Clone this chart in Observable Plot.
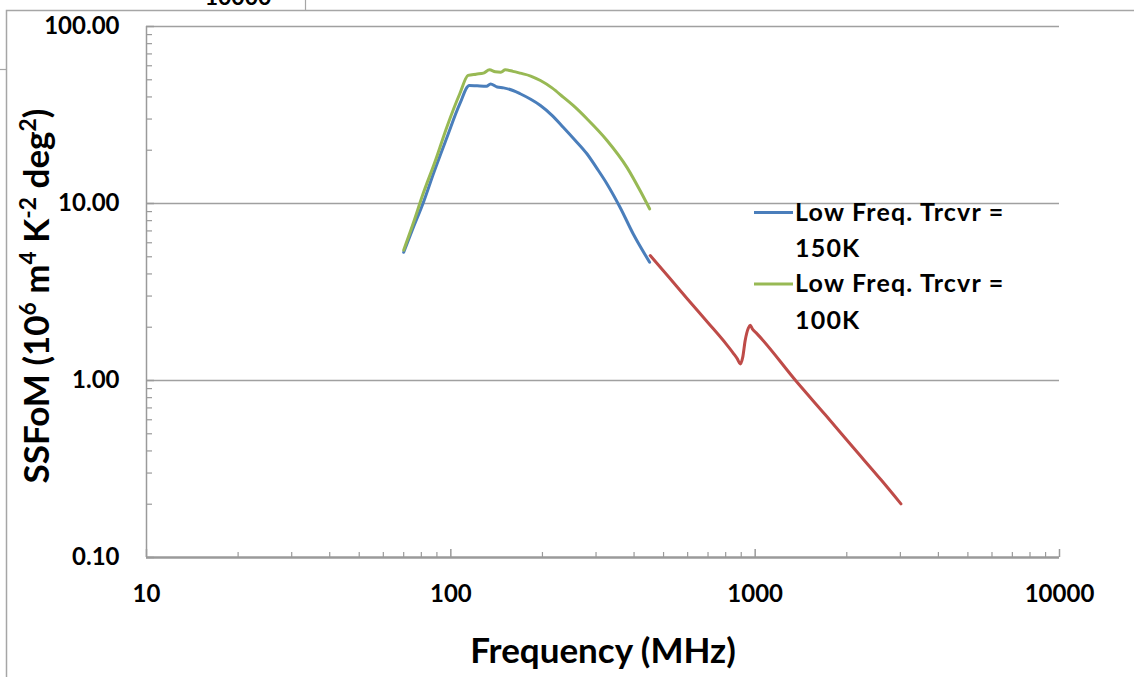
<!DOCTYPE html>
<html><head><meta charset="utf-8">
<script src="https://cdn.jsdelivr.net/npm/d3@7"></script>
<script src="https://cdn.jsdelivr.net/npm/@observablehq/plot@0.6"></script>
<style>body{margin:0;background:#fff;} svg{display:block;}</style>
</head><body><div id="chart"></div>
<script>
// ---- data ----
const xTicks = [10, 100, 1000, 10000];
const xTickLabels = ["10", "100", "1000", "10000"];
const yTicks = [0.1, 1, 10, 100];
const yTickLabels = ["0.10", "1.00", "10.00", "100.00"];
const seriesNames = ["Low Freq. Trcvr = 150K", "Low Freq. Trcvr = 100K"];

const blueFreq = [70, 75, 81, 88, 97, 107, 115, 122, 131, 135, 142, 149, 160, 169, 183, 197, 215, 234, 256, 280, 302, 326, 360, 398, 450];
const blueVal  = [5.3, 7.2, 10.0, 15.0, 23.5, 36.5, 46.4, 46.2, 46.0, 47.4, 45.5, 45.0, 43.5, 41.7, 38.8, 35.8, 31.5, 27.0, 22.8, 19.1, 15.8, 12.9, 9.5, 6.7, 4.66];

const greenFreq = [70, 75, 81, 89, 97, 107, 114, 121, 128, 134, 140, 146, 151, 160, 169, 183, 197, 215, 234, 256, 280, 326, 379, 419, 450];
const greenVal  = [5.45, 7.6, 11.3, 17.5, 27.0, 41.7, 52.9, 53.8, 54.5, 56.9, 55.5, 55.2, 56.9, 55.8, 54.5, 52.5, 49.5, 45.0, 39.9, 35.0, 30.1, 22.7, 16.0, 11.8, 9.33];

const redFreq = [452, 520, 600, 700, 800, 849, 875, 893, 910, 927, 950, 963, 980, 1013, 1371, 1700, 2100, 2600, 3013];
const redVal  = [5.08, 3.84, 2.88, 2.12, 1.62, 1.42, 1.32, 1.24, 1.35, 1.68, 1.98, 2.05, 1.95, 1.84, 0.98, 0.64, 0.418, 0.273, 0.201];

const colors = {blue: "#4A7EBB", green: "#98B954", red: "#BE4B48"};

// minor log ticks
const decadesX = [10, 100, 1000];
const decadesY = [0.1, 1, 10];
const mult = [2, 3, 4, 5, 6, 7, 8, 9];
const xMinor = decadesX.flatMap(d => mult.map(m => m * d));
const yMinor = decadesY.flatMap(d => mult.map(m => +(m * d).toPrecision(3)));

const toRows = (fs, vs) => fs.map((f, i) => ({f, v: vs[i]}));
const blue = toRows(blueFreq, blueVal);
const green = toRows(greenFreq, greenVal);
const red = toRows(redFreq, redVal);

// ---- layout ----
const W = 1134, H = 677, mL = 146, mR = 75, mT = 26, mB = 120;
const plotW = W - mL - mR, plotH = H - mT - mB;
const FONT = "Lato, 'Open Sans', sans-serif";
const axisGray = "#9a9a9a";

const chart = Plot.plot({
  width: W, height: H,
  marginLeft: mL, marginRight: mR, marginTop: mT, marginBottom: mB,
  x: {type: "log", domain: [10, 10000], axis: null},
  y: {type: "log", domain: [0.1, 100], axis: null},
  style: {fontFamily: FONT, background: "white", overflow: "visible"},
  marks: [
    Plot.ruleY([1, 10, 100], {y: d => d, stroke: "#a0a0a0", strokeWidth: 1.5}),
    Plot.ruleX(xMinor, {x: d => d, insetTop: plotH - 5, stroke: axisGray, strokeWidth: 1.2}),
    Plot.ruleX(xTicks, {x: d => d, insetTop: plotH - 8, stroke: axisGray, strokeWidth: 1.5}),
    Plot.ruleY(yMinor, {y: d => d, insetRight: plotW - 6, stroke: axisGray, strokeWidth: 1.2}),
    Plot.ruleY(yTicks, {y: d => d, insetRight: plotW - 8, stroke: axisGray, strokeWidth: 1.5}),
    Plot.ruleX([10], {x: d => d, stroke: axisGray, strokeWidth: 1.5}),
    Plot.ruleY([0.1], {y: d => d, stroke: axisGray, strokeWidth: 2.5}),
    Plot.line(blue, {x: "f", y: "v", stroke: colors.blue, strokeWidth: 3, curve: "monotone-x"}),
    Plot.line(green, {x: "f", y: "v", stroke: colors.green, strokeWidth: 3, curve: "monotone-x"}),
    Plot.line(red, {x: "f", y: "v", stroke: colors.red, strokeWidth: 3, curve: "monotone-x"}),
    Plot.text(xTicks, {x: d => d, text: (d, i) => xTickLabels[i], frameAnchor: "bottom", dy: 44,
      fontSize: 24, fontWeight: "bold", fill: "black"}),
    Plot.text(yTicks, {y: d => d, text: (d, i) => yTickLabels[i], frameAnchor: "left", dx: -27,
      textAnchor: "end", fontSize: 24, fontWeight: "bold", fill: "black"})
  ]
});
document.getElementById("chart").appendChild(chart);

const svg = d3.select(chart);

// frame artifacts (as in the reference screenshot)
svg.append("path").attr("d", "M6.5,677V10.5H1134").attr("fill", "none").attr("stroke", "#a6a6a6").attr("stroke-width", 1.5);
svg.append("path").attr("d", "M305.5,0V10").attr("stroke", "#a6a6a6").attr("stroke-width", 1.2);
svg.append("path").attr("d", "M0,69.5H6").attr("stroke", "#a6a6a6").attr("stroke-width", 1.2);
svg.append("text").attr("x", 238).attr("y", 5).attr("text-anchor", "middle")
  .attr("font-family", FONT).attr("font-size", 23).attr("font-weight", "bold").text("10000");

// x title
svg.append("text").attr("x", 603).attr("y", 663).attr("text-anchor", "middle")
  .attr("font-family", FONT).attr("font-size", 35).attr("font-weight", "bold").attr("fill", "black")
  .text("Frequency (MHz)");

// y title with superscripts
const yt = svg.append("text").attr("transform", "translate(49,296) rotate(-90)")
  .attr("text-anchor", "middle").attr("font-family", FONT).attr("font-size", 35)
  .attr("font-weight", "bold").attr("fill", "black");
const parts = [["SSFoM (10", false], ["6", true], [" m", false], ["4", true], [" K", false], ["-2", true], [" deg", false], ["2", true], [")", false]];
parts.forEach(([t, sup]) => {
  const ts = yt.append("tspan").text(t);
  if (sup) ts.attr("baseline-shift", "super").attr("font-size", "65%");
});

// legend
const legColors = [colors.blue, colors.green];
seriesNames.forEach((name, i) => {
  const y0 = 212.5 + i * 71.5;
  svg.append("line").attr("x1", 754).attr("x2", 793).attr("y1", y0).attr("y2", y0)
    .attr("stroke", legColors[i]).attr("stroke-width", 3);
  const cut = name.indexOf("=") + 1;
  const l1 = name.slice(0, cut), l2 = name.slice(cut + 1);
  const t = svg.append("text").attr("font-family", FONT).attr("font-size", 25).attr("font-weight", "bold")
    .attr("letter-spacing", 1.2).attr("text-anchor", "start").attr("fill", "black");
  t.append("tspan").attr("x", 795).attr("y", y0 + 8).text(l1);
  t.append("tspan").attr("x", 795).attr("y", y0 + 44.5).text(l2);
});
</script>
</body></html>
